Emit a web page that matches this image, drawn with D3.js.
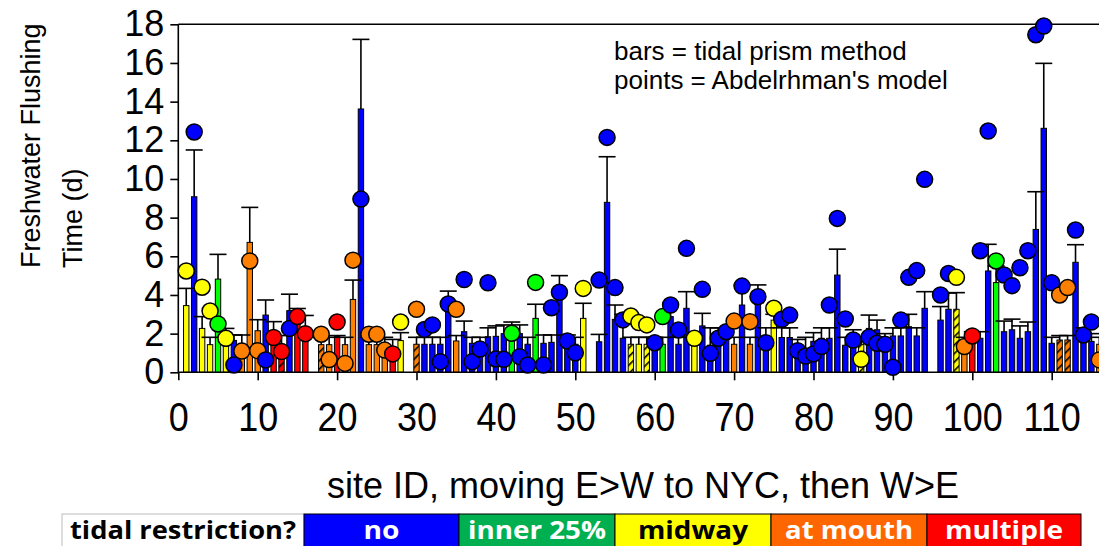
<!DOCTYPE html>
<html>
<head>
<meta charset="utf-8">
<script src="https://cdn.jsdelivr.net/npm/d3@7"></script>
<style>
  body { margin: 0; background: #fff; }
  svg { display: block; }
</style>
</head>
<body>
<svg id="chart" width="1099" height="546"></svg>
<script>
// Site IDs (gaps are sites without results)
const siteIds = [
  1, 2, 3, 4, 5, 6, 7, 8, 9, 10, 11, 12, 13, 14, 15, 16,
  18, 19, 20, 21, 22, 23, 24, 25, 26, 27, 28,
  30, 31, 32, 33, 34, 35, 36, 37, 38, 39, 40, 41, 42, 43, 44, 45, 46, 47, 48, 49, 50, 51,
  53, 54, 55, 56, 57, 58, 59, 60, 61, 62, 63, 64, 65, 66, 67, 68, 69, 70, 71, 72, 73, 74,
  75, 76, 77, 78, 79, 80, 81, 82, 83, 84, 85, 86, 87, 88, 89, 90, 91, 92, 93, 94,
  96, 97, 98, 99, 100, 101, 102, 103, 104, 105, 106, 107, 108, 109, 110, 111, 112, 113, 114, 115, 116
];

// Tidal restriction class per site
const restriction = [
  "mid", "no", "mid", "mid", "inner", "mid", "no", "mouth", "mouth", "mouth", "no", "multi", "multi", "no", "multi", "multi",
  "mouth", "mouth", "multi", "mouth", "mouth", "no", "mouth", "mouth", "mouth", "multi", "mid",
  "mouth", "no", "no", "no", "no", "mouth", "no", "no", "no", "no", "no", "no", "inner", "no", "no", "inner", "no", "no", "no", "no", "no", "mid",
  "no", "no", "no", "no", "mid", "mid", "mid", "no", "inner", "no", "no", "no", "mid", "no", "no", "no", "no", "mouth", "no", "mouth", "no", "no",
  "mid", "no", "no", "no", "no", "no", "no", "no", "no", "no", "no", "mid", "no", "no", "no", "no", "no", "no", "no", "no",
  "no", "no", "mid", "mouth", "multi", "no", "no", "inner", "no", "no", "no", "no", "no", "no", "no", "mouth", "mouth", "no", "no", "no", "mouth"
];

// Flushing time from the tidal prism method (d)
const prismDays = [
  3.45, 9.08, 2.27, 1.43, 4.82, 1.35, 1.65, 1.5, 6.72, 2.15, 2.96, 1.6, 1.45, 3.19, 3.26, 2.0,
  1.43, 1.43, 1.86, 1.43, 3.77, 13.62, 1.43, 1.43, 1.3, 1.3, 1.64,
  1.45, 1.45, 1.45, 1.45, 3.48, 1.62, 2.1, 1.5, 1.5, 1.84, 1.86, 2.0, 1.8, 2.0, 1.45, 2.79, 1.5, 1.55, 3.74, 1.5, 1.45, 2.79,
  1.58, 8.79, 2.74, 1.76, 1.45, 1.45, 1.45, 1.45, 1.45, 2.88, 1.45, 3.31, 1.45, 2.4, 1.4, 1.8, 2.0, 1.45, 3.48, 1.45, 3.91, 1.45,
  2.7, 1.8, 1.8, 1.2, 1.2, 1.6, 1.76, 1.76, 5.03, 1.4, 1.8, 1.45, 2.27, 2.2, 1.8, 1.88, 1.88, 2.36, 1.88, 3.31,
  2.7, 3.26, 3.26, 1.45, 1.8, 1.76, 5.24, 4.64, 2.1, 2.2, 1.76, 2.1, 7.39, 12.62, 1.5, 1.67, 1.67, 5.69, 1.8, 1.6, 1.45
];

// Upper end of each tidal prism error bar (d)
const prismUpper = [
  4.34, 11.5, 2.88, 1.81, 6.1, 2.27, 1.93, 1.93, 8.53, 2.72, 3.74, 2.62, 1.9, 4.04, 3.3, 2.94,
  1.81, 1.81, 1.9, 1.81, 4.77, 17.22, 1.81, 1.81, 1.81, 1.7, 2.05,
  1.81, 1.81, 1.81, 1.81, 4.2, 1.9, 2.65, 1.81, 1.81, 2.3, 2.4, 2.45, 2.6, 2.45, 1.81, 3.52, 1.93, 1.93, 5.0, 1.93, 1.81, 3.57,
  1.96, 11.15, 3.48, 3.0, 1.81, 1.81, 1.81, 1.81, 1.81, 3.55, 1.81, 4.17, 1.81, 3.05, 2.3, 2.3, 2.3, 1.81, 4.5, 1.81, 4.52, 2.3,
  3.0, 2.3, 2.3, 1.7, 1.81, 2.05, 2.3, 2.3, 6.37, 1.81, 2.2, 1.81, 2.96, 2.7, 2.0, 2.3, 2.3, 3.0, 2.3, 4.17,
  3.4, 4.1, 4.12, 1.81, 2.1, 2.1, 6.62, 5.5, 2.65, 2.75, 2.4, 2.6, 9.34, 15.98, 1.81, 1.9, 1.9, 6.6, 2.3, 2.0, 1.81
];

// Flushing time from Abdelrhman's model (d)
const modelDays = [
  5.24, 12.43, 4.4, 3.17, 2.5, 1.76, 0.38, 1.1, 5.76, 1.12, 0.64, 1.8, 1.07, 2.27, 2.88, 2.0,
  1.97, 0.66, 2.6, 0.46, 5.8, 8.96, 1.97, 1.97, 1.15, 0.95, 2.6,
  3.26, 2.22, 2.45, 0.55, 3.53, 3.26, 4.8, 0.55, 1.2, 4.63, 0.69, 0.67, 2.02, 0.81, 0.38, 4.65, 0.38, 3.34, 4.14, 1.62, 1.01, 4.34,
  4.77, 12.15, 4.38, 2.71, 2.91, 2.57, 2.45, 1.53, 2.88, 3.48, 2.19, 6.41, 1.76, 4.29, 0.98, 1.76, 2.1, 2.65, 4.46, 2.62, 3.91, 1.53,
  3.31, 2.74, 2.96, 1.12, 0.84, 0.95, 1.33, 3.48, 7.96, 2.76, 1.67, 0.67, 1.81, 1.5, 1.45, 0.26, 2.7, 4.91, 5.26, 9.98,
  4.0, 5.11, 4.91, 1.33, 1.88, 6.29, 12.48, 5.76, 5.03, 4.48, 5.41, 6.29, 17.46, 17.91, 4.63, 4.0, 4.38, 7.36, 1.93, 2.6, 0.64
];

// Sites whose bars are drawn hatched
const hatchedSites = [13, 18, 30, 57, 59, 86, 98, 111, 112];

const xTicks = [0, 10, 20, 30, 40, 50, 60, 70, 80, 90, 100, 110];
const yTicks = [0, 2, 4, 6, 8, 10, 12, 14, 16, 18];

const legendTitle = "tidal restriction?";
const legendKeys = ["no", "inner", "mid", "mouth", "multi"];
const legendLabels = ["no", "inner 25%", "midway", "at mouth", "multiple"];

const markColor = { no: "#0000ff", inner: "#00ff00", mid: "#ffff00", mouth: "#ff8000", multi: "#ff0000" };
const keyColor = { no: "#0000ff", inner: "#00b050", mid: "#ffff00", mouth: "#ff6600", multi: "#ff0000" };
const keyText = { no: "#ffffff", inner: "#ffffff", mid: "#000000", mouth: "#ffffff", multi: "#ffffff" };

const rows = siteIds.map((id, i) => ({
  id, cat: restriction[i], bar: prismDays[i], upper: prismUpper[i], pt: modelDays[i],
  hatched: hatchedSites.includes(id)
}));

const svg = d3.select("#chart");
const font = "'Liberation Sans', Arial, sans-serif";

const x = d3.scaleLinear().domain([0, 117]).range([178.3, 178.3 + 7.94 * 117]);
const y = d3.scaleLinear().domain([0, 18]).range([372.3, 24.3]);

// Hatch patterns for the partially restricted sites
const defs = svg.append("defs");
["mid", "mouth", "multi"].forEach(k => {
  const p = defs.append("pattern")
    .attr("id", "hatch-" + k)
    .attr("patternUnits", "userSpaceOnUse")
    .attr("width", 6).attr("height", 6)
    .attr("patternTransform", "rotate(-45)");
  p.append("rect").attr("width", 6).attr("height", 6).attr("fill", markColor[k]);
  p.append("rect").attr("width", 6).attr("height", 1.6).attr("fill", "#000");
});

const plot = svg.append("g");
const barW = 5.4;

// Bars: tidal prism method
plot.selectAll("rect.bar").data(rows).join("rect")
  .attr("class", "bar")
  .attr("x", d => x(d.id) - barW / 2)
  .attr("y", d => y(d.bar))
  .attr("width", barW)
  .attr("height", d => y(0) - y(d.bar))
  .attr("fill", d => d.hatched ? `url(#hatch-${d.cat})` : markColor[d.cat])
  .attr("stroke", "#000")
  .attr("stroke-width", 1);

// Upper error bars
const eb = plot.append("g").attr("stroke", "#000").attr("stroke-width", 1.6);
eb.selectAll("line.stem").data(rows).join("line")
  .attr("x1", d => x(d.id)).attr("x2", d => x(d.id))
  .attr("y1", d => y(d.bar)).attr("y2", d => y(d.upper));
eb.selectAll("line.cap").data(rows).join("line")
  .attr("x1", d => x(d.id) - 8.5).attr("x2", d => x(d.id) + 8.5)
  .attr("y1", d => y(d.upper)).attr("y2", d => y(d.upper));

// Axes and frame
const yAxis = svg.append("g")
  .attr("transform", `translate(${x(0)},0)`)
  .call(d3.axisLeft(y).tickValues(yTicks).tickSize(8).tickPadding(6));
const xAxis = svg.append("g")
  .attr("transform", `translate(0,${y(0)})`)
  .call(d3.axisBottom(x).tickValues(xTicks).tickSize(8).tickPadding(18.5));
[yAxis, xAxis].forEach(a => {
  a.select(".domain").attr("stroke", "#000").attr("stroke-width", 1.6);
  a.selectAll(".tick line").attr("stroke", "#000").attr("stroke-width", 1.6);
  a.selectAll(".tick text")
    .attr("font-family", font).attr("font-size", 36).attr("fill", "#000");
});
xAxis.selectAll(".tick text").attr("transform", "scale(1,1.12)");
xAxis.select(".domain").attr("d", `M${x(0)},0H1099`);
yAxis.select(".domain").attr("d", `M0,${y(0)}V${y(18)}`);
svg.append("line")
  .attr("x1", x(0)).attr("x2", 1099)
  .attr("y1", y(18)).attr("y2", y(18))
  .attr("stroke", "#000").attr("stroke-width", 1.6);

// Points: Abdelrhman's model
svg.append("g").selectAll("circle").data(rows).join("circle")
  .attr("cx", d => x(d.id))
  .attr("cy", d => y(d.pt))
  .attr("r", 8)
  .attr("fill", d => markColor[d.cat])
  .attr("stroke", "#000")
  .attr("stroke-width", 1.5);

// Method note
const note = svg.append("g").attr("font-family", font).attr("font-size", 26).attr("fill", "#000");
note.append("text").attr("x", 614).attr("y", 60).text("bars = tidal prism method");
note.append("text").attr("x", 614).attr("y", 89).text("points = Abdelrhman's model");

// Axis titles
const yTitle = svg.append("text")
  .attr("transform", "translate(0,268) rotate(-90)")
  .attr("font-family", font).attr("font-size", 27).attr("fill", "#000");
yTitle.append("tspan").attr("x", 0).attr("y", 40).text("Freshwater Flushing");
yTitle.append("tspan").attr("x", 0).attr("y", 82).text("Time (d)");

svg.append("text")
  .attr("x", 643).attr("y", 498)
  .attr("text-anchor", "middle")
  .attr("font-family", font).attr("font-size", 36).attr("fill", "#000")
  .text("site ID, moving E>W to NYC, then W>E");

// Restriction key
const keyTop = 514, keyH = 40;
const keyEdges = [62, 304, 459, 615, 771, 927, 1081];
const keyTextLen = [226, 36, 138, 110, 128, 118];
const cells = [{ label: legendTitle, fill: "#ffffff", color: "#000000" }]
  .concat(legendKeys.map((k, i) => ({ label: legendLabels[i], fill: keyColor[k], color: keyText[k] })));
const key = svg.append("g");
cells.forEach((c, i) => {
  const x0 = keyEdges[i], x1 = keyEdges[i + 1];
  key.append("rect")
    .attr("x", x0).attr("y", keyTop).attr("width", x1 - x0).attr("height", keyH)
    .attr("fill", c.fill).attr("stroke", i === 0 ? "#bbb" : "#000").attr("stroke-width", 1);
  key.append("text")
    .attr("x", (x0 + x1) / 2).attr("y", keyTop + 25)
    .attr("text-anchor", "middle")
    .attr("font-family", "'Open Sans', 'Noto Sans', sans-serif")
    .attr("font-weight", "bold").attr("font-size", 25)
    .attr("textLength", keyTextLen[i]).attr("lengthAdjust", "spacingAndGlyphs")
    .attr("fill", c.color)
    .text(c.label);
});
</script>
</body>
</html>
